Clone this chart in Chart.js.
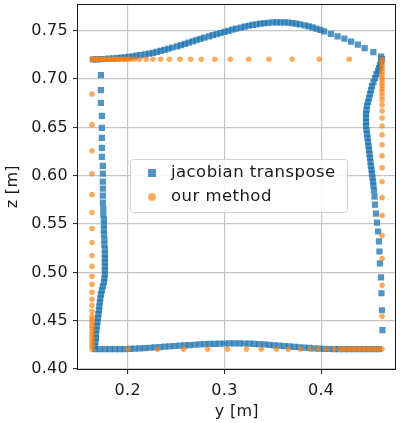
<!DOCTYPE html>
<html><head><meta charset="utf-8">
<script src="https://cdn.jsdelivr.net/npm/chart.js@4.4.1/dist/chart.umd.min.js"></script>
<style>html,body{margin:0;padding:0;background:#fff;overflow:hidden}</style>
</head><body>
<canvas id="c" width="400" height="423" style="width:400px;height:423px;display:block"></canvas>
<script>
// ---- data (y [m], z [m]) ----
const seriesLabels = ['jacobian transpose', 'our method'];
const xTicks = [0.2, 0.3, 0.4];
const yTicks = [0.40, 0.45, 0.50, 0.55, 0.60, 0.65, 0.70, 0.75];

// jacobian transpose: top arc, right side, bottom, left side
const jacY = [
 0.164,0.168,0.172,0.176,0.180,0.185,0.189,0.193,0.197,0.201,0.205,0.209,0.213,0.218,0.222,0.226,0.230,0.234,0.238,0.242,
 0.246,0.251,0.255,0.259,0.263,0.267,0.271,0.275,0.279,0.284,0.288,0.292,0.296,0.300,0.304,0.308,0.312,0.317,0.321,0.325,
 0.329,0.333,0.337,0.341,0.345,0.350,0.354,0.358,0.362,0.366,0.370,0.374,0.378,0.383,0.387,0.391,0.395,0.399,
 0.403,0.410,0.417,0.424,0.431,0.438,0.445,0.454,0.462,
 0.4629,0.4619,0.4608,0.4598,0.4588,0.4572,0.4557,0.4541,0.4526,0.4515,0.4505,0.4495,0.4485,0.4474,0.4469,0.4464,0.4464,0.4464,0.4464,0.4469,
 0.4474,0.4479,0.4485,0.4490,0.4495,0.4500,0.4505,0.4510,0.4515,0.4521,0.4526,0.4531,0.4536,0.4541,0.4546,
 0.4552,0.4557,0.4567,0.4577,0.4588,0.4598,0.4603,0.4608,0.4619,0.4624,0.4629,0.4634,
 0.1711,0.1763,0.1814,0.1866,0.1918,0.1969,0.2021,0.2072,0.2124,0.2175,0.2227,0.2278,0.2330,0.2381,0.2433,0.2485,0.2536,0.2588,0.2639,0.2691,
 0.2742,0.2794,0.2845,0.2897,0.2948,0.3000,0.3052,0.3103,0.3155,0.3206,0.3258,0.3309,0.3361,0.3412,0.3464,0.3515,0.3567,0.3619,0.3670,0.3722,
 0.3773,0.3825,0.3876,0.3928,0.3979,0.4031,0.4082,0.4134,0.4186,0.4237,0.4289,0.4341,0.4392,0.4443,0.4495,0.4546,0.4598,
 0.1722,0.1722,0.1722,0.1732,0.1732,0.1732,0.1732,0.1732,0.1742,0.1742,0.1742,0.1742,0.1742,0.1742,0.1747,0.1747,0.1753,0.1753,0.1753,0.1753,
 0.1758,0.1758,0.1763,0.1763,0.1763,0.1763,0.1763,0.1763,0.1763,0.1758,0.1753,0.1742,0.1732,0.1722,0.1716,0.1711,0.1706,0.1701,0.1696,0.1691,
 0.1686,0.1680,0.1675,0.1670,0.1670,0.1665,0.1660,0.1660
];
const jacZ = [
 0.7203,0.7204,0.7206,0.7208,0.7211,0.7214,0.7218,0.7222,0.7226,0.7231,0.7236,0.7242,0.7248,0.7256,0.7264,0.7272,0.7281,0.7292,0.7302,0.7314,
 0.7327,0.7339,0.7352,0.7364,0.7377,0.7391,0.7404,0.7416,0.7429,0.7441,0.7454,0.7466,0.7477,0.7489,0.7500,0.7511,0.7523,0.7533,0.7542,0.7552,
 0.7560,0.7567,0.7573,0.7578,0.7582,0.7586,0.7588,0.7588,0.7587,0.7584,0.7580,0.7573,0.7566,0.7557,0.7546,0.7535,0.7523,0.7510,
 0.7495,0.7469,0.7443,0.7418,0.7387,0.7356,0.7320,0.7278,0.7232,
 0.7206,0.7175,0.7144,0.7113,0.7082,0.7052,0.7010,0.6969,0.6928,0.6887,0.6845,0.6804,0.6763,0.6722,0.6680,0.6639,0.6598,0.6557,0.6515,0.6474,
 0.6433,0.6392,0.6351,0.6309,0.6268,0.6227,0.6186,0.6144,0.6103,0.6062,0.6021,0.5979,0.5938,0.5897,0.5845,
 0.5784,0.5701,0.5608,0.5515,0.5423,0.5320,0.5216,0.5093,0.4948,0.4784,0.4608,0.4402,
 0.4206,0.4206,0.4206,0.4206,0.4206,0.4206,0.4208,0.4210,0.4213,0.4216,0.4220,0.4224,0.4227,0.4231,0.4235,0.4238,0.4241,0.4244,0.4247,0.4251,
 0.4254,0.4257,0.4259,0.4261,0.4263,0.4264,0.4265,0.4265,0.4265,0.4264,0.4262,0.4260,0.4257,0.4254,0.4250,0.4245,0.4241,0.4237,0.4233,0.4229,
 0.4225,0.4221,0.4218,0.4214,0.4211,0.4209,0.4207,0.4206,0.4206,0.4206,0.4206,0.4206,0.4206,0.4206,0.4206,0.4206,0.4206,
 0.7041,0.6887,0.6753,0.6619,0.6495,0.6392,0.6289,0.6196,0.6103,0.6021,0.5938,0.5866,0.5794,0.5722,0.5660,0.5598,0.5546,0.5495,0.5443,0.5392,
 0.5340,0.5289,0.5237,0.5186,0.5144,0.5103,0.5062,0.5021,0.4979,0.4938,0.4897,0.4856,0.4814,0.4773,0.4732,0.4691,0.4649,0.4608,0.4567,0.4526,
 0.4485,0.4443,0.4402,0.4361,0.4320,0.4278,0.4237,0.4206
];

// our method: top edge, right edge, bottom edge, left edge
const ourY = [
 0.163,0.165,0.167,0.169,0.171,0.173,0.175,0.177,0.179,0.181,0.184,0.186,0.188,0.190,0.192,0.194,0.196,0.198,0.200,0.203,
 0.207,0.212,0.219,0.226,0.234,0.243,0.254,0.265,0.276,0.290,0.306,0.325,0.346,0.370,0.398,0.429,0.463,
 0.463,0.463,0.463,0.463,0.463,0.463,0.463,0.463,0.463,0.463,0.463,0.463,0.463,0.463,0.463,0.463,0.463,0.463,0.463,0.463,
 0.463,0.463,0.463,0.463,0.463,0.463,0.463,0.463,
 0.4629,0.4598,0.4567,0.4536,0.4505,0.4474,0.4443,0.4412,0.4381,0.4351,0.4320,0.4289,0.4258,0.4227,0.4196,0.4134,0.4052,0.3969,0.3887,0.3784,
 0.3660,0.3536,0.3381,0.3227,0.3031,0.2825,0.2577,0.2309,0.2000,
 0.163,0.163,0.163,0.163,0.163,0.163,0.163,0.163,0.163,0.163,0.163,0.163,0.163,0.163,0.163,0.163,0.163,0.163,0.163,0.163,
 0.163,0.163,0.163,0.163,0.163,0.163,0.163,0.163
];
const ourZ = [
 0.7206,0.7206,0.7206,0.7206,0.7206,0.7206,0.7206,0.7206,0.7206,0.7206,0.7206,0.7206,0.7206,0.7206,0.7206,0.7206,0.7206,0.7206,0.7206,0.7206,
 0.7206,0.7206,0.7206,0.7206,0.7206,0.7206,0.7206,0.7206,0.7206,0.7206,0.7206,0.7206,0.7206,0.7206,0.7206,0.7206,0.7206,
 0.7175,0.7144,0.7113,0.7082,0.7052,0.7021,0.6990,0.6959,0.6928,0.6897,0.6866,0.6825,0.6784,0.6732,0.6670,0.6598,0.6515,0.6423,0.6320,0.6206,
 0.6082,0.5938,0.5773,0.5588,0.5381,0.5144,0.4866,0.4546,
 0.4206,0.4206,0.4206,0.4206,0.4206,0.4206,0.4206,0.4206,0.4206,0.4206,0.4206,0.4206,0.4206,0.4206,0.4206,0.4206,0.4206,0.4206,0.4206,0.4206,
 0.4206,0.4206,0.4206,0.4206,0.4206,0.4206,0.4206,0.4206,0.4206,
 0.4206,0.4237,0.4268,0.4299,0.4330,0.4361,0.4392,0.4423,0.4454,0.4485,0.4515,0.4546,0.4598,0.4660,0.4722,0.4794,0.4876,0.4959,0.5062,0.5175,
 0.5309,0.5454,0.5619,0.5804,0.6021,0.6258,0.6526,0.6845
];

const BLUE = 'rgba(31,119,180,0.78)';
const ORANGE = 'rgba(255,127,14,0.65)';
const FONT = 'DejaVu Sans';
const TXT = '#1a1a1a';

const toPts = (xs, ys) => xs.map((v, i) => ({x: v, y: ys[i]}));

const spacing = {
  id: 'spacing',
  beforeDraw(chart) { chart.ctx.letterSpacing = '0.3px'; }
};

const frameAndLegend = {
  id: 'frameAndLegend',
  afterDatasetsDraw(chart) {
    const ctx = chart.ctx, a = chart.chartArea;
    ctx.save();
    ctx.strokeStyle = '#1a1a1a';
    ctx.lineWidth = 1;
    ctx.strokeRect(Math.round(a.left) - 0.5, Math.round(a.top) + 0.5,
                   Math.round(a.right - a.left), Math.round(a.bottom - a.top));
    // legend box
    const bx = 130.5, by = 159.5, bw = 217, bh = 53;
    ctx.beginPath();
    ctx.roundRect(bx, by, bw, bh, 3);
    ctx.fillStyle = 'rgba(255,255,255,0.85)';
    ctx.fill();
    ctx.strokeStyle = '#d0d0d0';
    ctx.stroke();
    const ds = chart.data.datasets;
    ctx.fillStyle = ds[0].backgroundColor;
    ctx.fillRect(148, 169, 8, 8);
    ctx.fillStyle = ds[1].backgroundColor;
    ctx.beginPath(); ctx.arc(152, 197, 4, 0, Math.PI * 2); ctx.fill();
    ctx.fillStyle = TXT;
    ctx.font = '16.5px "' + FONT + '"';
    ctx.letterSpacing = '0.45px';
    ctx.textBaseline = 'middle';
    ctx.textAlign = 'left';
    ctx.fillText(ds[0].label, 171, 173);
    ctx.fillText(ds[1].label, 171, 197);
    ctx.restore();
  }
};

const zeroPad = s => { s.paddingTop = 0; s.paddingBottom = 0; s.paddingLeft = 0; s.paddingRight = 0; };

new Chart(document.getElementById('c'), {
  type: 'scatter',
  data: {
    datasets: [
      {label: seriesLabels[0], data: toPts(jacY, jacZ), pointStyle: 'rect', pointRadius: 4.4,
       pointHoverRadius: 4.4, backgroundColor: BLUE, borderWidth: 0, order: 1},
      {label: seriesLabels[1], data: toPts(ourY, ourZ), pointStyle: 'circle', pointRadius: 2.8,
       pointHoverRadius: 2.8, backgroundColor: ORANGE, borderWidth: 0, order: 0}
    ]
  },
  options: {
    responsive: false,
    animation: false,
    events: [],
    layout: {padding: {top: 3, right: 3, left: 0, bottom: 0}},
    plugins: {legend: {display: false}, tooltip: {enabled: false}},
    scales: {
      x: {
        type: 'linear', position: 'bottom', min: 0.1485, max: 0.477,
        afterBuildTicks: s => { s.ticks = xTicks.map(v => ({value: v})); },
        afterFit: s => { s.height = 54; zeroPad(s); },
        ticks: {callback: v => v.toFixed(1), font: {size: 16, family: FONT}, color: TXT, padding: 7, maxRotation: 0, autoSkip: false},
        grid: {color: '#c6c6c6', lineWidth: 1.2, tickColor: '#1a1a1a', tickLength: 5, tickWidth: 1},
        border: {display: false},
        title: {display: true, text: 'y [m]', font: {size: 16, family: FONT}, color: TXT, padding: {top: 0, bottom: 2}}
      },
      y: {
        type: 'linear', position: 'left', min: 0.40, max: 0.7773,
        afterBuildTicks: s => { s.ticks = yTicks.map(v => ({value: v})); },
        afterFit: s => { s.width = 78; zeroPad(s); },
        ticks: {callback: v => v.toFixed(2), font: {size: 16, family: FONT}, color: TXT, padding: 5, autoSkip: false},
        grid: {color: '#c6c6c6', lineWidth: 1.2, tickColor: '#1a1a1a', tickLength: 5, tickWidth: 1},
        border: {display: false},
        title: {display: true, text: 'z [m]', font: {size: 16, family: FONT}, color: TXT, padding: {top: 3, bottom: 0}}
      }
    }
  },
  plugins: [spacing, frameAndLegend]
});
</script>
</body></html>
